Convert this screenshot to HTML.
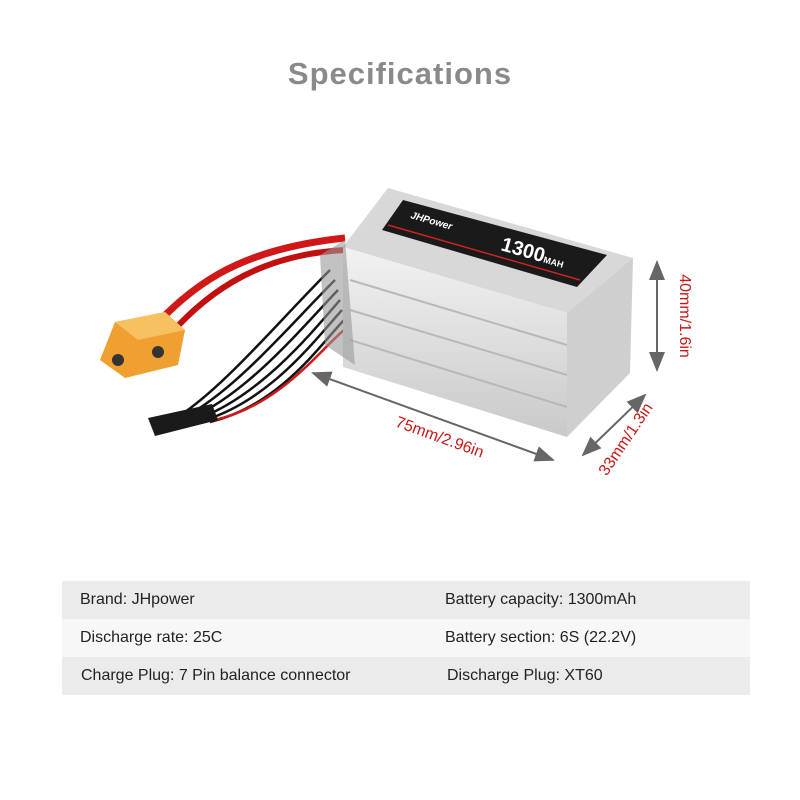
<!DOCTYPE html>
<html><head><style>
body{margin:0;width:800px;height:800px;background:#fff;font-family:"Liberation Sans",sans-serif;position:relative;overflow:hidden}
h1{position:absolute;top:56px;left:0;width:800px;text-align:center;margin:0;font-size:31px;color:#8a8a8a;font-weight:bold;letter-spacing:1px}
.row{position:absolute;left:62px;width:688px;height:38px;font-size:16px;color:#222;line-height:38px}
.row span{position:absolute}
</style></head><body>
<h1>Specifications</h1>
<svg width="800" height="800" style="position:absolute;left:0;top:0">
<defs>
<marker id="a" markerWidth="10" markerHeight="8" refX="9" refY="4" orient="auto-start-reverse"><path d="M0,0L10,4L0,8z" fill="#666"/></marker>
<linearGradient id="g" x1="0" y1="0" x2="0" y2="1"><stop offset="0" stop-color="#f2f2f2"/><stop offset="1" stop-color="#c9c9c9"/></linearGradient>
</defs>
<path d="M150,330 C190,290 230,250 345,238" stroke="#d01818" stroke-width="7" fill="none"/>
<path d="M165,340 C200,300 250,255 345,250" stroke="#c01010" stroke-width="6" fill="none"/>
<g stroke="#111" stroke-width="2.5" fill="none">
<path d="M185,412 C230,380 280,320 330,270"/><path d="M190,414 C240,385 290,325 335,280"/>
<path d="M195,416 C250,390 300,330 338,290"/><path d="M200,418 C260,395 310,335 340,300"/>
<path d="M205,420 C270,400 315,340 342,310"/><path d="M210,422 C280,405 320,345 344,320"/>
</g>
<path d="M215,420 C280,405 320,350 344,330" stroke="#d01818" stroke-width="2.5" fill="none"/>
<polygon points="115,322 165,312 185,330 178,365 125,378 100,360" fill="#f0a030"/>
<polygon points="115,322 165,312 185,330 138,340" fill="#f7c060"/>
<circle cx="118" cy="360" r="6" fill="#333"/><circle cx="158" cy="352" r="6" fill="#333"/>
<polygon points="148,418 212,404 218,420 155,436" fill="#1a1a1a"/>
<polygon points="388,188 633,258 567,313 343,247" fill="#d8d8d8"/>
<polygon points="403,200 607,255 577,287 382,230" fill="#1a1a1a"/>
<line x1="388" y1="225" x2="580" y2="280" stroke="#c22" stroke-width="1.5"/>
<text x="500" y="250" transform="rotate(16 500 250)" fill="#fff" font-size="20" font-weight="bold">1300<tspan font-size="9">MAH</tspan></text>
<text x="410" y="218" transform="rotate(16 410 218)" fill="#fff" font-size="10" font-weight="bold" font-style="italic">JHPower</text>
<polygon points="343,247 567,313 567,437 343,367" fill="url(#g)"/>
<g stroke="#b8b8b8" stroke-width="2"><line x1="350" y1="280" x2="567" y2="345"/><line x1="350" y1="310" x2="567" y2="375"/><line x1="350" y1="340" x2="567" y2="407"/></g>
<polygon points="567,313 633,258 630,373 567,437" fill="#cfcfcf"/>
<polygon points="320,255 345,240 355,365 325,345" fill="#9a9a9a" opacity="0.6"/>
<line x1="313" y1="373" x2="553" y2="460" stroke="#666" stroke-width="2" marker-start="url(#a)" marker-end="url(#a)"/>
<line x1="657" y1="262" x2="657" y2="370" stroke="#666" stroke-width="2" marker-start="url(#a)" marker-end="url(#a)"/>
<line x1="583" y1="455" x2="645" y2="395" stroke="#666" stroke-width="2" marker-start="url(#a)" marker-end="url(#a)"/>
<text x="438" y="442" transform="rotate(20 438 442)" text-anchor="middle" fill="#c81818" font-size="16">75mm/2.96in</text>
<text x="680" y="316" transform="rotate(90 680 316)" text-anchor="middle" fill="#c81818" font-size="16">40mm/1.6in</text>
<text x="630" y="442" transform="rotate(-56 630 442)" text-anchor="middle" fill="#c81818" font-size="16">33mm/1.3in</text>
</svg>
<div class="row" style="top:581px;background:#ebebeb"><span style="left:18px">Brand: JHpower</span><span style="left:383px">Battery capacity: 1300mAh</span></div>
<div class="row" style="top:619px;background:#f7f7f7"><span style="left:18px">Discharge rate: 25C</span><span style="left:383px">Battery section: 6S (22.2V)</span></div>
<div class="row" style="top:657px;background:#ebebeb"><span style="left:19px">Charge Plug: 7 Pin balance connector</span><span style="left:385px">Discharge Plug: XT60</span></div>
</body></html>
